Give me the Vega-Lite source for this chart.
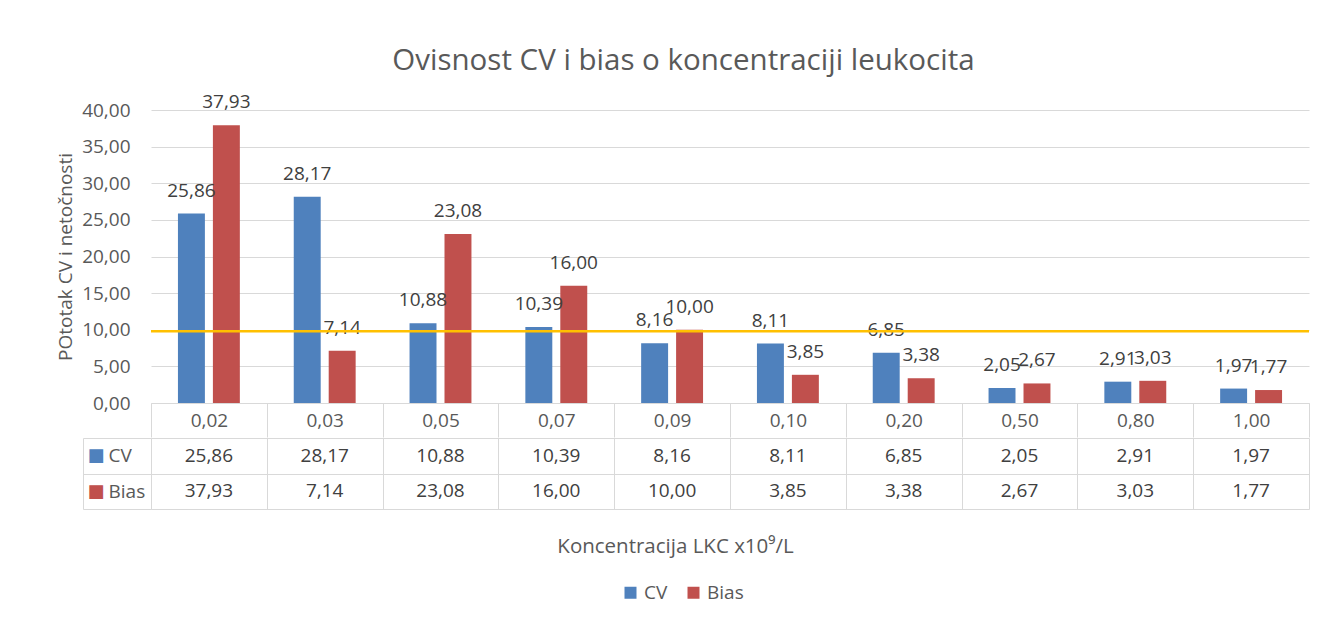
{
  "$schema": "https://vega.github.io/schema/vega-lite/v6.json",
  "background": "white",
  "padding": {"left": 56, "top": 45, "right": 10, "bottom": 10},
  "title": {"text": "Ovisnost CV i bias o koncentraciji leukocita", "fontSize": 29.5, "font": "Open Sans", "fontWeight": "normal", "color": "#595959", "anchor": "middle", "offset": 17},
  "datasets": {
    "d": [
      {"cat": "0,02", "series": "CV", "value": 25.86},
      {"cat": "0,02", "series": "Bias", "value": 37.93},
      {"cat": "0,03", "series": "CV", "value": 28.17},
      {"cat": "0,03", "series": "Bias", "value": 7.14},
      {"cat": "0,05", "series": "CV", "value": 10.88},
      {"cat": "0,05", "series": "Bias", "value": 23.08},
      {"cat": "0,07", "series": "CV", "value": 10.39},
      {"cat": "0,07", "series": "Bias", "value": 16.00},
      {"cat": "0,09", "series": "CV", "value": 8.16},
      {"cat": "0,09", "series": "Bias", "value": 10.00},
      {"cat": "0,10", "series": "CV", "value": 8.11},
      {"cat": "0,10", "series": "Bias", "value": 3.85},
      {"cat": "0,20", "series": "CV", "value": 6.85},
      {"cat": "0,20", "series": "Bias", "value": 3.38},
      {"cat": "0,50", "series": "CV", "value": 2.05},
      {"cat": "0,50", "series": "Bias", "value": 2.67},
      {"cat": "0,80", "series": "CV", "value": 2.91},
      {"cat": "0,80", "series": "Bias", "value": 3.03},
      {"cat": "1,00", "series": "CV", "value": 1.97},
      {"cat": "1,00", "series": "Bias", "value": 1.77}
    ],
    "limit": [{"limit": 9.8}]
  },
  "spacing": -10,
  "vconcat": [
    {
      "width": 1158,
      "height": 293,
      "layer": [
        {
          "data": {"name": "d"},
          "mark": {"type": "bar"},
          "encoding": {
            "x": {"field": "cat", "type": "nominal", "sort": null, "scale": {"paddingInner": 0, "paddingOuter": 0},
              "axis": {"title": null, "tickBand": "extent", "tickSize": 34, "tickColor": "#d9d9d9", "domainColor": "#d9d9d9", "labelAngle": 0, "labelBaseline": "middle", "labelPadding": -17, "labelFontSize": 19, "labelFont": "Open Sans", "labelColor": "#595959", "grid": false}},
            "xOffset": {"field": "series", "type": "nominal", "sort": ["CV", "Bias"], "scale": {"paddingInner": 0.229, "paddingOuter": 0.771}},
            "y": {"field": "value", "type": "quantitative", "scale": {"domain": [0, 40], "nice": false},
              "axis": {"title": "POtotak CV i netočnosti", "values": [0, 5, 10, 15, 20, 25, 30, 35, 40], "format": ".2f", "labelOverlap": false, "domain": false, "ticks": false, "grid": true, "gridColor": "#d9d9d9", "labelPadding": 21, "labelFontSize": 19, "labelFont": "Open Sans", "labelColor": "#595959", "titleFontSize": 19, "titleFont": "Open Sans", "titleColor": "#595959", "titleFontWeight": "normal", "titlePadding": 6}},
            "color": {"field": "series", "type": "nominal", "scale": {"domain": ["CV", "Bias"], "range": ["#4f81bd", "#c0504d"]},
              "legend": {"title": null, "orient": "none", "legendX": 470, "legendY": 473, "direction": "horizontal", "symbolType": "square", "symbolSize": 144, "symbolStrokeWidth": 0, "labelFontSize": 19, "labelFont": "Open Sans", "labelColor": "#595959", "columnPadding": 16}}
          }
        },
        {
          "data": {"name": "d"},
          "mark": {"type": "text", "baseline": "alphabetic", "dy": -17, "fontSize": 19, "font": "Open Sans", "color": "#404040"},
          "encoding": {
            "x": {"field": "cat", "type": "nominal", "sort": null},
            "xOffset": {"field": "series", "type": "nominal", "sort": ["CV", "Bias"]},
            "y": {"field": "value", "type": "quantitative",
              "axis": {"title": "POtotak CV i netočnosti", "values": [0, 5, 10, 15, 20, 25, 30, 35, 40], "format": ".2f", "labelOverlap": false, "domain": false, "ticks": false, "grid": true, "gridColor": "#d9d9d9", "labelPadding": 21, "labelFontSize": 19, "labelFont": "Open Sans", "labelColor": "#595959", "titleFontSize": 19, "titleFont": "Open Sans", "titleColor": "#595959", "titleFontWeight": "normal", "titlePadding": 6}},
            "text": {"field": "value", "type": "quantitative", "format": ".2f"}
          }
        },
        {
          "data": {"name": "limit"},
          "mark": {"type": "rule", "color": "#ffc000", "strokeWidth": 2.5},
          "encoding": {
            "y": {"field": "limit", "type": "quantitative",
              "axis": {"title": "POtotak CV i netočnosti", "values": [0, 5, 10, 15, 20, 25, 30, 35, 40], "format": ".2f", "labelOverlap": false, "domain": false, "ticks": false, "grid": true, "gridColor": "#d9d9d9", "labelPadding": 21, "labelFontSize": 19, "labelFont": "Open Sans", "labelColor": "#595959", "titleFontSize": 19, "titleFont": "Open Sans", "titleColor": "#595959", "titleFontWeight": "normal", "titlePadding": 6}}
          }
        }
      ]
    },
    {
      "width": 1158,
      "height": 71,
      "data": {"name": "d"},
      "layer": [
        {
          "mark": {"type": "text", "fontSize": 19, "font": "Open Sans", "color": "#404040", "baseline": "middle"},
          "encoding": {
            "x": {"field": "cat", "type": "nominal", "sort": null, "scale": {"paddingInner": 0, "paddingOuter": 0},
              "axis": {"title": "Koncentracija LKC x10⁹/L", "titleX": 524, "labels": false, "ticks": false, "domain": false, "grid": true, "tickBand": "extent", "gridColor": "#d9d9d9", "titleFontSize": 20.5, "titleFont": "Open Sans", "titleColor": "#595959", "titleFontWeight": "normal", "titlePadding": 27}},
            "y": {"field": "series", "type": "nominal", "sort": ["CV", "Bias"], "scale": {"paddingInner": 0, "paddingOuter": 0},
              "axis": {"orient": "left", "title": null, "grid": true, "tickBand": "extent", "gridColor": "#d9d9d9", "domainColor": "#d9d9d9", "ticks": true, "tickSize": 68, "tickColor": "#d9d9d9", "labelAlign": "left", "labelPadding": -25, "labelBaseline": "middle", "labelFontSize": 19, "labelFont": "Open Sans", "labelColor": "#595959"}},
            "text": {"field": "value", "type": "quantitative", "format": ".2f"}
          }
        },
        {
          "mark": {"type": "text", "text": ""},
          "encoding": {
            "y": {"field": "series", "type": "nominal", "sort": ["CV", "Bias"], "scale": {"paddingInner": 0, "paddingOuter": 0},
              "axis": {"orient": "left", "offset": 68, "title": null, "grid": false, "ticks": false, "domain": true, "domainColor": "#d9d9d9", "labelExpr": "'■'", "labelAlign": "left", "labelPadding": -4, "labelBaseline": "middle", "labelFontSize": 18, "labelFont": "DejaVu Sans", "labelColor": {"condition": {"test": "datum.value === 'CV'", "value": "#4f81bd"}, "value": "#c0504d"}}}
          }
        }
      ],
      "resolve": {"scale": {"y": "independent"}, "axis": {"y": "independent"}}
    }
  ],
  "config": {
    "locale": {"number": {"decimal": ",", "thousands": ".", "grouping": [3], "currency": ["", " €"]}},
    "view": {"stroke": null},
    "font": "Open Sans"
  }
}
